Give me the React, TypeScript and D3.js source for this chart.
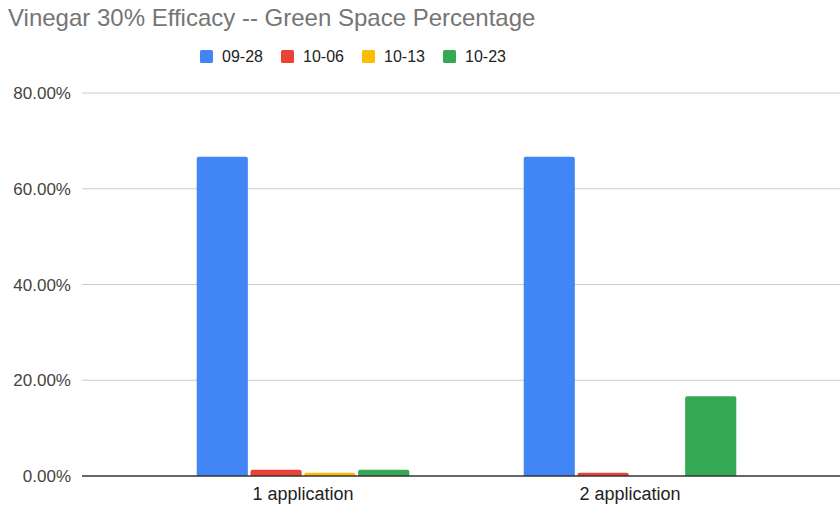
import React from "react";
import * as d3 from "d3";

const categories = ["1 application", "2 application"];
const seriesNames = ["09-28", "10-06", "10-13", "10-23"];
const seriesColors = ["#4285F4", "#EA4335", "#FBBC04", "#34A853"];
const values09_28 = [66.67, 66.67];
const values10_06 = [1.33, 0.67];
const values10_13 = [0.67, 0];
const values10_23 = [1.33, 16.67];
const yTicks = [0, 20, 40, 60, 80];

const W = 840;
const H = 506;

function topRounded(x: number, y: number, w: number, h: number, r: number) {
  if (h <= 0) return "";
  const rr = Math.min(r, h, w / 2);
  return `M${x},${y + h}V${y + rr}Q${x},${y} ${x + rr},${y}H${x + w - rr}Q${x + w},${y} ${x + w},${y + rr}V${y + h}Z`;
}

export default function App() {
  const series = [values09_28, values10_06, values10_13, values10_23];
  const y = d3.scaleLinear().domain([0, 80]).range([476, 93]);
  const x = d3.scaleBand().domain(categories).range([139.5, 793.5]).paddingInner(0.35).paddingOuter(0.175);
  const inner = d3.scaleBand().domain(seriesNames).range([0, x.bandwidth()]).paddingInner(0.05);
  const legendX = [200, 281, 362, 443];

  return (
    <svg width={W} height={H} style={{ position: "absolute", left: 0, top: 0, fontFamily: "'Liberation Sans', Arial, sans-serif" }}>
      <rect width={W} height={H} fill="#fff" />
      <text x={8} y={26} fontSize={24} fill="#757575">Vinegar 30% Efficacy -- Green Space Percentage</text>
      {seriesNames.map((n, i) => (
        <g key={n}>
          <rect x={legendX[i]} y={50} width={13} height={13} rx={1.5} fill={seriesColors[i]} />
          <text x={legendX[i] + 22} y={62} fontSize={16} fill="#222">{n}</text>
        </g>
      ))}
      {yTicks.map((t) => (
        <g key={t}>
          {t !== 0 && <line x1={82} x2={840} y1={y(t)} y2={y(t)} stroke="#cccccc" strokeWidth={1} />}
          <text x={71} y={y(t) + 6} fontSize={17} fill="#444" textAnchor="end">{d3.format(".2f")(t) + "%"}</text>
        </g>
      ))}
      {categories.map((c, ci) => (
        <g key={c}>
          {series.map((vals, si) => {
            const bx = (x(c) as number) + (inner(seriesNames[si]) as number);
            const by = y(vals[ci]);
            return <path key={si} d={topRounded(bx, by, inner.bandwidth(), y(0) - by, 2)} fill={seriesColors[si]} />;
          })}
          <text x={(x(c) as number) + x.bandwidth() / 2} y={500} fontSize={18} fill="#222" textAnchor="middle">{c}</text>
        </g>
      ))}
      <line x1={82} x2={840} y1={y(0)} y2={y(0)} stroke="#333" strokeWidth={1.5} />
    </svg>
  );
}
